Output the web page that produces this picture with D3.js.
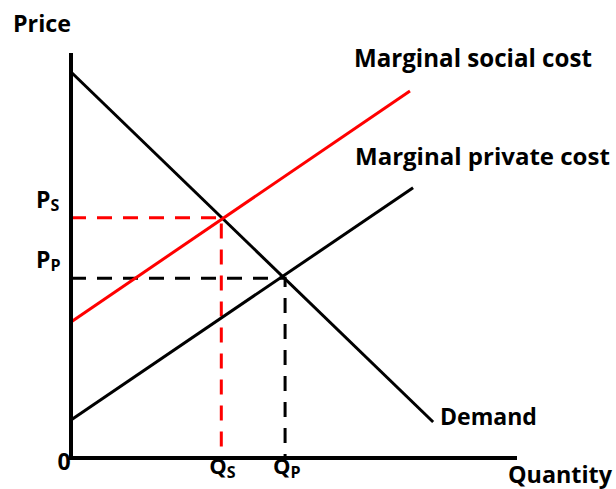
<!DOCTYPE html>
<html>
<head>
<meta charset="utf-8">
<script src="https://cdn.jsdelivr.net/npm/d3@7"></script>
<style>
  html, body { margin: 0; padding: 0; background: #fff; }
  text { font-family: "Open Sans", Lato, sans-serif; font-weight: bold; fill: #000; }
</style>
</head>
<body>
<svg id="chart" width="616" height="489"></svg>
<script>
// ---- data (in abstract quantity / price units) ----
const demand = [{q: 0, p: 9.53}, {q: 8.12, p: 0.89}];
const marginalSocialCost = [{q: 0, p: 3.36}, {q: 7.60, p: 9.06}];
const marginalPrivateCost = [{q: 0, p: 0.94}, {q: 7.67, p: 6.67}];
const equilibria = [
  {name: "S", q: 3.37, p: 5.93, color: "#ff0000"},
  {name: "P", q: 4.80, p: 4.44, color: "#000000"}
];
const curveLabels = ["Marginal social cost", "Marginal private cost", "Demand"];
const axisTitles = {x: "Quantity", y: "Price"};
const originLabel = "0";

// ---- layout ----
const svg = d3.select("#chart");
const x = d3.scaleLinear().domain([0, 10]).range([71, 517]);
const y = d3.scaleLinear().domain([0, 10]).range([458, 53]);

const line = d3.line().x(d => x(d.q)).y(d => y(d.p));

// dashed guides
equilibria.forEach(e => {
  svg.append("path")
    .attr("d", line([{q: 0, p: e.p}, {q: e.q, p: e.p}, {q: e.q, p: 0}]))
    .attr("fill", "none")
    .attr("stroke", e.color)
    .attr("stroke-width", 3)
    .attr("stroke-dasharray", "15,11");
});

// curves
svg.append("path").attr("d", line(marginalPrivateCost))
  .attr("fill", "none").attr("stroke", "#000").attr("stroke-width", 3);
svg.append("path").attr("d", line(demand))
  .attr("fill", "none").attr("stroke", "#000").attr("stroke-width", 3);
svg.append("path").attr("d", line(marginalSocialCost))
  .attr("fill", "none").attr("stroke", "#ff0000").attr("stroke-width", 3);

// axes
svg.append("line").attr("x1", x(0)).attr("x2", x(0)).attr("y1", y(10)).attr("y2", y(0) + 2)
  .attr("stroke", "#000").attr("stroke-width", 4);
svg.append("line").attr("x1", x(0) - 2).attr("x2", x(10)).attr("y1", y(0)).attr("y2", y(0))
  .attr("stroke", "#000").attr("stroke-width", 4);

function fitText(str, px, py, size, width) {
  const t = svg.append("text").attr("x", px).attr("y", py).attr("font-size", size).text(str);
  const w = t.node().getComputedTextLength();
  if (w > 0) t.attr("font-size", size * width / w);
  return t;
}

// axis titles
fitText(axisTitles.y, 13, 32, 22, 58);
fitText(axisTitles.x, 508, 483, 22, 104);
svg.append("text").attr("x", 64).attr("y", 470).attr("text-anchor", "middle")
  .attr("font-size", 23).text(originLabel);

// curve labels
const labelPos = [[354, 67, 238], [355, 165, 255], [440, 425, 97]];
curveLabels.forEach((t, i) => {
  fitText(t, labelPos[i][0], labelPos[i][1], 22, labelPos[i][2]);
});

// price labels (P_S, P_P)
equilibria.forEach(e => {
  const t = svg.append("text").attr("x", 36).attr("y", y(e.p) - 10).attr("font-size", 23);
  t.append("tspan").text("P");
  t.append("tspan").attr("font-size", 16).attr("dy", 3).text(e.name);
});

// quantity labels (Q_S, Q_P)
equilibria.forEach(e => {
  const t = svg.append("text").attr("x", x(e.q) - 12).attr("y", 474).attr("font-size", 22);
  t.append("tspan").text("Q");
  t.append("tspan").attr("font-size", 16).attr("dy", 4).text(e.name);
});
</script>
</body>
</html>
